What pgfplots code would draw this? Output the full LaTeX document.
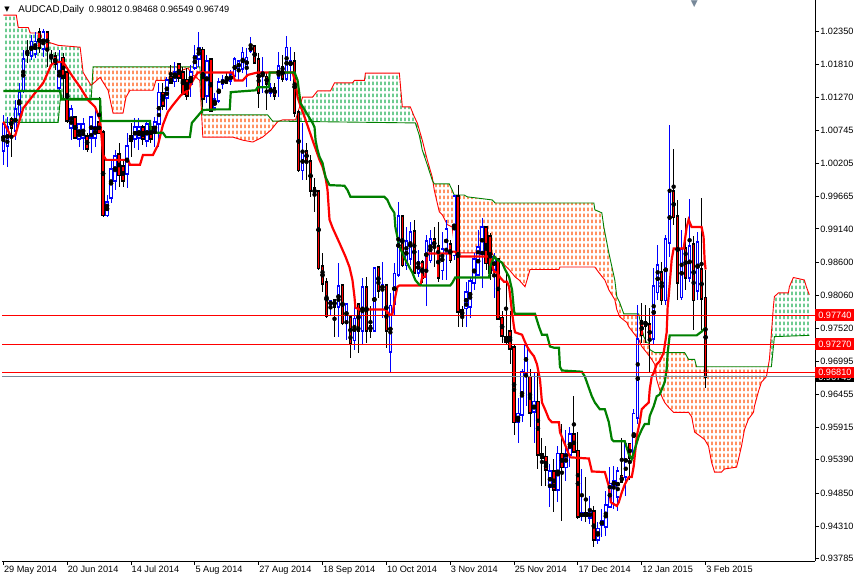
\documentclass[border=0pt]{standalone}
\usepackage{fontspec}
\setmainfont{Liberation Sans}
\newfontfamily\dejavu{DejaVu Sans}
\usepackage{pgfplots}
\pgfplotsset{compat=1.18}
\usepackage{pgfplotstable}
\usepgfplotslibrary{fillbetween}
\usetikzlibrary{patterns.meta}

\definecolor{kgreen}{RGB}{0,128,0}
\definecolor{cloudgreen}{RGB}{30,175,85}
\definecolor{cloudorange}{RGB}{255,85,10}
\definecolor{bidgray}{RGB}{119,136,153}

% hatch used by the kumo (cloud)
\tikzdeclarepattern{
  name=kumo,
  type=uncolored,
  bottom left={(0pt,0pt)},
  top right={(4pt,6pt)},
  tile size={(4pt,6pt)},
  code={\draw[line width=1.2pt] (2pt,1pt) -- (2pt,4.5pt);}
}

% daily candles: bar index, open, high, low, close
\pgfplotstableread{
i o h l c
0 1.0042 1.0099 1.0018 1.0083
1 1.0050 1.0096 1.0015 1.0078
2 1.0091 1.0096 1.0031 1.0079
3 1.0074 1.0123 1.0058 1.0107
4 1.0102 1.0151 1.0091 1.0134
5 1.0139 1.0204 1.0134 1.0188
6 1.0201 1.0220 1.0183 1.0198
7 1.0196 1.0228 1.0188 1.0217
8 1.0199 1.0233 1.0191 1.0217
9 1.0232 1.0241 1.0199 1.0209
10 1.0207 1.0238 1.0193 1.0232
11 1.0232 1.0233 1.0177 1.0207
12 1.0196 1.0204 1.0180 1.0193
13 1.0193 1.0201 1.0172 1.0183
14 1.0144 1.0204 1.0134 1.0183
15 1.0191 1.0199 1.0123 1.0160
16 1.0167 1.0177 1.0086 1.0091
17 1.0079 1.0115 1.0058 1.0107
18 1.0094 1.0096 1.0061 1.0063
19 1.0061 1.0086 1.0047 1.0083
20 1.0063 1.0094 1.0042 1.0083
21 1.0063 1.0070 1.0039 1.0045
22 1.0063 1.0096 1.0037 1.0094
23 1.0063 1.0107 1.0047 1.0078
24 1.0086 1.0128 1.0070 1.0070
25 1.0070 1.0074 0.9934 0.9937
26 0.9937 0.9969 0.9934 0.9956
27 0.9966 1.0026 0.9956 1.0010
28 0.9993 1.0042 0.9977 1.0031
29 1.0034 1.0053 0.9982 1.0002
30 1.0015 1.0026 0.9982 0.9993
31 1.0005 1.0070 0.9980 1.0047
32 1.0063 1.0086 1.0031 1.0058
33 1.0061 1.0094 1.0045 1.0078
34 1.0063 1.0094 1.0042 1.0078
35 1.0078 1.0083 1.0050 1.0061
36 1.0058 1.0091 1.0047 1.0083
37 1.0079 1.0088 1.0053 1.0061
38 1.0070 1.0096 1.0047 1.0086
39 1.0086 1.0151 1.0047 1.0134
40 1.0134 1.0151 1.0107 1.0115
41 1.0128 1.0160 1.0107 1.0155
42 1.0160 1.0180 1.0151 1.0152
43 1.0155 1.0185 1.0144 1.0168
44 1.0180 1.0183 1.0152 1.0160
45 1.0168 1.0177 1.0131 1.0134
46 1.0155 1.0175 1.0123 1.0131
47 1.0151 1.0180 1.0128 1.0167
48 1.0177 1.0212 1.0172 1.0193
49 1.0191 1.0233 1.0177 1.0207
50 1.0204 1.0209 1.0112 1.0126
51 1.0131 1.0196 1.0118 1.0185
52 1.0188 1.0191 1.0107 1.0107
53 1.0112 1.0134 1.0107 1.0123
54 1.0123 1.0159 1.0118 1.0151
55 1.0151 1.0164 1.0142 1.0155
56 1.0160 1.0167 1.0151 1.0152
57 1.0155 1.0172 1.0147 1.0164
58 1.0164 1.0193 1.0160 1.0188
59 1.0175 1.0188 1.0155 1.0185
60 1.0175 1.0209 1.0168 1.0199
61 1.0177 1.0207 1.0144 1.0191
62 1.0204 1.0225 1.0199 1.0209
63 1.0209 1.0212 1.0183 1.0185
64 1.0188 1.0199 1.0110 1.0136
65 1.0164 1.0193 1.0134 1.0168
66 1.0160 1.0167 1.0107 1.0151
67 1.0136 1.0151 1.0128 1.0142
68 1.0142 1.0151 1.0123 1.0131
69 1.0160 1.0201 1.0128 1.0177
70 1.0175 1.0196 1.0152 1.0159
71 1.0159 1.0227 1.0155 1.0207
72 1.0181 1.0209 1.0155 1.0185
73 1.0185 1.0201 1.0096 1.0104
74 1.0102 1.0107 1.0006 1.0010
75 1.0010 1.0086 0.9993 1.0037
76 1.0039 1.0053 0.9993 1.0026
77 1.0023 1.0034 0.9966 0.9977
78 0.9979 0.9997 0.9942 0.9972
79 0.9974 0.9977 0.9848 0.9851
80 0.9852 0.9875 0.9812 0.9826
81 0.9826 0.9835 0.9770 0.9774
82 0.9791 0.9799 0.9774 0.9796
83 0.9797 0.9797 0.9739 0.9789
84 0.9788 0.9859 0.9739 0.9820
85 0.9822 0.9823 0.9758 0.9762
86 0.9762 0.9791 0.9734 0.9791
87 0.9770 0.9770 0.9705 0.9729
88 0.9734 0.9791 0.9718 0.9767
89 0.9791 0.9791 0.9713 0.9750
90 0.9750 0.9835 0.9726 0.9818
91 0.9818 0.9835 0.9729 0.9750
92 0.9755 0.9788 0.9737 0.9750
93 0.9750 0.9851 0.9747 0.9849
94 0.9851 0.9851 0.9802 0.9815
95 0.9817 0.9861 0.9770 0.9822
96 0.9822 0.9822 0.9721 0.9750
97 0.9715 0.9810 0.9682 0.9788
98 0.9794 0.9859 0.9774 0.9840
99 0.9840 0.9958 0.9836 0.9934
100 0.9934 0.9935 0.9852 0.9856
101 0.9856 0.9917 0.9848 0.9893
102 0.9867 0.9925 0.9856 0.9908
103 0.9909 0.9929 0.9844 0.9844
104 0.9844 0.9880 0.9836 0.9859
105 0.9859 0.9864 0.9826 0.9836
106 0.9851 0.9904 0.9788 0.9893
107 0.9864 0.9912 0.9859 0.9896
108 0.9896 0.9917 0.9852 0.9885
109 0.9885 0.9925 0.9828 0.9835
110 0.9848 0.9909 0.9831 0.9880
111 0.9877 0.9929 0.9831 0.9912
112 0.9888 0.9896 0.9859 0.9864
113 0.9872 0.9966 0.9864 0.9966
114 0.9966 0.9985 0.9755 0.9780
115 0.9781 0.9788 0.9754 0.9774
116 0.9786 0.9828 0.9754 0.9810
117 0.9788 0.9835 0.9770 0.9828
118 0.9828 0.9875 0.9815 0.9864
119 0.9840 0.9912 0.9840 0.9883
120 0.9875 0.9932 0.9818 0.9916
121 0.9916 0.9916 0.9848 0.9859
122 0.9901 0.9908 0.9831 0.9844
123 0.9848 0.9875 0.9802 0.9867
124 0.9864 0.9864 0.9769 0.9769
125 0.9769 0.9780 0.9729 0.9742
126 0.9737 0.9843 0.9726 0.9731
127 0.9747 0.9780 0.9694 0.9720
128 0.9721 0.9726 0.9580 0.9601
129 0.9601 0.9640 0.9567 0.9613
130 0.9613 0.9686 0.9601 0.9681
131 0.9681 0.9726 0.9626 0.9723
132 0.9673 0.9686 0.9593 0.9616
133 0.9618 0.9681 0.9567 0.9632
134 0.9632 0.9681 0.9524 0.9548
135 0.9548 0.9575 0.9496 0.9543
136 0.9543 0.9561 0.9496 0.9524
137 0.9496 0.9532 0.9462 0.9519
138 0.9519 0.9540 0.9454 0.9491
139 0.9491 0.9561 0.9470 0.9548
140 0.9548 0.9597 0.9439 0.9528
141 0.9528 0.9588 0.9504 0.9548
142 0.9548 0.9592 0.9528 0.9580
143 0.9580 0.9642 0.9551 0.9553
144 0.9553 0.9585 0.9443 0.9448
145 0.9448 0.9524 0.9439 0.9451
146 0.9451 0.9511 0.9438 0.9448
147 0.9446 0.9480 0.9435 0.9454
148 0.9454 0.9464 0.9397 0.9410
149 0.9410 0.9438 0.9402 0.9426
150 0.9435 0.9459 0.9413 0.9438
151 0.9431 0.9488 0.9415 0.9464
152 0.9464 0.9527 0.9462 0.9499
153 0.9499 0.9529 0.9459 0.9503
154 0.9480 0.9527 0.9456 0.9519
155 0.9512 0.9575 0.9503 0.9504
156 0.9512 0.9569 0.9480 0.9564
157 0.9564 0.9564 0.9507 0.9543
158 0.9543 0.9621 0.9540 0.9613
159 0.9608 0.9791 0.9597 0.9734
160 0.9763 0.9794 0.9729 0.9742
161 0.9762 0.9791 0.9729 0.9757
162 0.9758 0.9786 0.9682 0.9734
163 0.9737 0.9851 0.9726 0.9820
164 0.9812 0.9888 0.9799 0.9854
165 0.9843 0.9861 0.9791 0.9799
166 0.9799 0.9904 0.9791 0.9896
167 0.9893 1.0083 0.9869 0.9972
168 0.9974 1.0044 0.9921 0.9934
169 0.9934 0.9961 0.9799 0.9828
170 0.9804 0.9912 0.9799 0.9880
171 0.9882 0.9932 0.9815 0.9836
172 0.9836 0.9963 0.9828 0.9885
173 0.9888 0.9903 0.9750 0.9799
174 0.9815 0.9909 0.9799 0.9891
175 0.9847 0.9964 0.9750 0.9802
176 0.98012 0.98468 0.96549 0.96749
}\candles

% Tenkan-sen (red) and Kijun-sen (green)
\pgfplotstableread{
x y
0 1.0088
2 1.0063
3 1.0066
3.75 1.0083
5 1.0110
7.5 1.0131
10 1.0151
12 1.0180
13 1.0185
15 1.0185
15.75 1.0177
17.5 1.0160
19.25 1.0144
21.25 1.0123
23 1.0112
24.25 1.0091
25 1.0034
25.75 1.0026
31.25 1.0026
31.75 1.0018
34.25 1.0018
35 1.0034
37.5 1.0034
38.75 1.0050
40 1.0083
41.25 1.0104
42.5 1.0115
44.5 1.0131
46.25 1.0139
47.5 1.0155
48.75 1.0168
57.5 1.0168
58 1.0155
60 1.0155
61.25 1.0164
63.75 1.0168
72.5 1.0168
73.25 1.0151
73.75 1.0128
74.25 1.0118
75.75 1.0091
77.5 1.0058
79.25 1.0026
80 1.0015
80.75 0.9998
81.25 0.9977
81.75 0.9929
82.5 0.9916
84.25 0.9891
85.75 0.9869
86.75 0.9852
87.5 0.9831
88 0.9804
88.25 0.9786
89.25 0.9783
95.75 0.9783
96.75 0.9775
97.5 0.9775
98.25 0.9804
98.75 0.9820
99.25 0.9822
104.5 0.9822
105 0.9836
105.75 0.9836
106.25 0.9874
112 0.9874
112.5 0.9877
113.25 0.9877
113.75 0.9872
114.25 0.9869
122 0.9869
123 0.9844
123.75 0.9843
124.5 0.9835
125.5 0.9828
126.25 0.9828
126.75 0.9820
127 0.9807
127.5 0.9778
128 0.9754
128.25 0.9746
130 0.9742
130.5 0.9734
131.25 0.9723
132 0.9715
133 0.9707
133.75 0.9694
134.5 0.9669
135 0.9632
135.75 0.9621
136.75 0.9605
137.5 0.9600
139.25 0.9600
139.5 0.9584
140.5 0.9568
141.25 0.9556
142 0.9543
146.75 0.9541
147.5 0.9520
150.75 0.9519
151.75 0.9496
152.25 0.9470
153.75 0.9464
154.25 0.9470
155 0.9486
155.75 0.9499
156.75 0.9511
157.5 0.9511
158 0.9529
158.75 0.9577
159.5 0.9600
160 0.9621
160.75 0.9626
161.75 0.9632
162 0.9653
162.5 0.9674
163 0.9680
163.75 0.9694
164.5 0.9699
165.5 0.9713
166.25 0.9746
166.5 0.9788
166.75 0.9804
167.5 0.9864
168 0.9882
170.5 0.9882
170.75 0.9893
171.25 0.9916
171.75 0.9929
172.5 0.9917
175 0.9917
175.5 0.9901
175.75 0.9864
176 0.9848
}\tenkan

\pgfplotstableread{
x y
0 1.0138
14.25 1.0138
14.5 1.0125
24.25 1.0125
24.5 1.0089
36.75 1.0089
37 1.0070
40 1.0070
40.75 1.0063
46.75 1.0063
47.25 1.0086
50 1.0107
53.25 1.0108
56.75 1.0108
57 1.0136
63.25 1.0139
63.75 1.0144
66.5 1.0144
66.75 1.0168
73 1.0168
73.75 1.0155
74.5 1.0118
77.5 1.0086
78 1.0079
78.25 1.0058
78.75 1.0042
79.25 1.0031
80 1.0021
80.75 0.9998
81.75 0.9985
85.5 0.9984
86.25 0.9977
87 0.9966
95.5 0.9966
96.25 0.9961
97 0.9950
98 0.9940
98.25 0.9917
98.75 0.9901
99.25 0.9885
100 0.9875
100.75 0.9864
101.75 0.9852
102.5 0.9843
103.25 0.9831
104.25 0.9823
105 0.9822
112 0.9822
112.5 0.9826
113.25 0.9835
121.75 0.9835
122 0.9852
123 0.9869
123.75 0.9864
125 0.9859
125.75 0.9848
126.75 0.9836
127.5 0.9815
128 0.9780
128.25 0.9776
133.25 0.9776
134.25 0.9755
135 0.9742
136.25 0.9742
137 0.9723
138 0.9721
139.25 0.9721
139.5 0.9690
140 0.9684
145 0.9682
145.75 0.9674
147.5 0.9642
148.25 0.9632
149.5 0.9621
150.75 0.9621
151.75 0.9600
152.5 0.9572
153 0.9569
155.75 0.9569
156.75 0.9548
157.5 0.9540
158.25 0.9556
159.25 0.9577
160 0.9588
160.75 0.9597
161.75 0.9597
162 0.9610
163 0.9626
163.75 0.9642
164.5 0.9645
165.75 0.9665
166.25 0.9686
166.5 0.9713
167 0.9741
173.75 0.9741
175 0.9747
176 0.9754
}\kijun

% Senkou span A (red) and B (green), shifted 26 bars ahead
\pgfplotstableread{
x y
0 1.0261
3.25 1.0261
3.75 1.0241
6.25 1.0241
6.75 1.0232
9.25 1.0232
10 1.0220
13.75 1.0212
19.25 1.0209
20 1.0168
22 1.0147
24.25 1.0160
26.25 1.0139
27.5 1.0102
30 1.0102
30.75 1.0128
31.75 1.0139
37.5 1.0139
38.25 1.0155
41.75 1.0155
42.5 1.0160
45 1.0172
46.25 1.0175
47.5 1.0164
49.25 1.0155
50 1.0063
57.5 1.0063
60 1.0058
62.5 1.0055
65 1.0063
67 1.0074
68.75 1.0088
70 1.0091
73.25 1.0091
75 1.0128
77.5 1.0128
78.75 1.0138
82 1.0138
83 1.0151
87.5 1.0151
88 1.0155
90.5 1.0155
90.75 1.0167
99.25 1.0167
100 1.0112
102 1.0112
103 1.0096
103.75 1.0086
105 1.0058
106.25 1.0026
107.5 0.9998
108 0.9977
109.25 0.9942
110 0.9937
111.25 0.9921
112.5 0.9917
113.25 0.9875
122.5 0.9875
123.25 0.9864
125 0.9859
126.75 0.9848
128.25 0.9836
129.25 0.9831
130.75 0.9820
131.25 0.9831
132 0.9848
139.25 0.9848
139.5 0.9852
148.25 0.9852
149.25 0.9843
150.75 0.9831
151.75 0.9815
153.25 0.9799
153.75 0.9783
154.5 0.9771
156.25 0.9762
156.75 0.9755
159.25 0.9734
160 0.9723
161.25 0.9713
162.5 0.9702
163.25 0.9694
163.75 0.9669
165 0.9642
165.75 0.9632
166.75 0.9624
168 0.9616
171.75 0.9616
172.5 0.9609
173.25 0.9584
175.75 0.9572
176.75 0.9561
177.5 0.9535
178.25 0.9519
180 0.9519
180.75 0.9524
183.75 0.9527
184.25 0.9540
185 0.9561
185.75 0.9588
186.75 0.9605
188 0.9616
188.25 0.9626
189.25 0.9650
190 0.9665
191.25 0.9674
192 0.9702
193 0.9788
193.25 0.9804
194.25 0.9810
196.75 0.9810
197 0.9820
198 0.9835
200.75 0.9831
201.25 0.9820
202 0.9807
}\spanA

\pgfplotstableread{
x y
0 1.0087
13.75 1.0087
14.25 1.0123
22 1.0123
22.5 1.0177
49.25 1.0177
50 1.0099
66.25 1.0099
67.5 1.0089
103.25 1.0086
104.25 1.0066
105 1.0042
106.25 1.0018
107.5 0.9993
108 0.9987
111.75 0.9987
112.5 0.9977
113 0.9969
115.5 0.9969
116.25 0.9966
122.5 0.9961
123.25 0.9956
148 0.9956
148.25 0.9945
150 0.9940
150.5 0.9917
151.75 0.9875
153.25 0.9831
153.75 0.9804
154.5 0.9794
155.5 0.9776
159.25 0.9776
159.5 0.9767
160 0.9755
160.5 0.9739
161.25 0.9729
161.75 0.9729
162 0.9718
163.25 0.9713
170.75 0.9713
171.75 0.9702
173.25 0.9702
173.75 0.9690
192.5 0.9690
193.25 0.9739
202 0.9741
}\spanB

\begin{document}
\begin{tikzpicture}
\begin{axis}[
  at={(0pt,0pt)}, anchor=south west,
  scale only axis, width=815pt, height=562pt,
  xmin=-0.3, xmax=203.45, ymin=0.93746, ymax=1.0285,
  clip=false,
  axis x line*=bottom, axis y line*=right,
  axis line style={black, line width=0.8pt},
  tick align=outside, major tick length=4pt,
  tick style={black, line width=0.8pt},
  xtick={0,16,...,176},
  xticklabels={29 May 2014,20 Jun 2014,14 Jul 2014,5 Aug 2014,27 Aug 2014,18 Sep 2014,10 Oct 2014,3 Nov 2014,25 Nov 2014,17 Dec 2014,12 Jan 2015,3 Feb 2015},
  xticklabel style={anchor=north west, inner sep=0pt, xshift=0.5pt, yshift=-1pt},
  ytick={0.93785,0.94310,0.94850,0.95390,0.95915,0.96455,0.96995,0.97520,0.98060,0.98600,0.99140,0.99665,1.00205,1.00745,1.01270,1.01810,1.02350},
  yticklabels={0.93785,0.94310,0.94850,0.95390,0.95915,0.96455,0.96995,0.97520,0.98060,0.98600,0.99140,0.99665,1.00205,1.00745,1.01270,1.01810,1.02350},
  yticklabel style={anchor=west, inner sep=0pt, xshift=1pt},
  ticklabel style={font=\fontsize{9.2}{11}\selectfont},
]

% invisible span paths for the cloud
\addplot[draw=none, name path=A] table[x=x, y=y] {\spanA};
\addplot[draw=none, name path=B] table[x=x, y=y] {\spanB};

\addplot[pattern=kumo, pattern color=cloudgreen, draw=none] fill between[of=A and B, soft clip={domain=-0.3:22.25}];
\addplot[pattern=kumo, pattern color=cloudorange, draw=none] fill between[of=A and B, soft clip={domain=22.25:69}];
\addplot[pattern=kumo, pattern color=cloudgreen, draw=none] fill between[of=A and B, soft clip={domain=69:107.7}];
\addplot[pattern=kumo, pattern color=cloudorange, draw=none] fill between[of=A and B, soft clip={domain=107.7:191.6}];
\addplot[pattern=kumo, pattern color=cloudgreen, draw=none] fill between[of=A and B, soft clip={domain=191.6:202}];

\addplot[red, line width=0.9pt] table[x=x, y=y] {\spanA};
\addplot[kgreen, line width=0.9pt] table[x=x, y=y] {\spanB};

% wicks
\addplot[only marks, mark=none, error bars/.cd, y dir=both, y explicit, error mark=none,
  error bar style={blue, line width=1pt}]
  table[x=i, y expr={\thisrow{c}>=\thisrow{o} ? (\thisrow{h}+\thisrow{l})/2 : nan},
        y error expr={(\thisrow{h}-\thisrow{l})/2}] {\candles};
\addplot[only marks, mark=none, error bars/.cd, y dir=both, y explicit, error mark=none,
  error bar style={black, line width=1pt}]
  table[x=i, y expr={\thisrow{c}<\thisrow{o} ? (\thisrow{h}+\thisrow{l})/2 : nan},
        y error expr={(\thisrow{h}-\thisrow{l})/2}] {\candles};

% bodies: outline then fill
\addplot[only marks, mark=none, error bars/.cd, y dir=both, y explicit, error mark=none,
  error bar style={blue, line width=3.4pt, line cap=rect}]
  table[x=i, y expr={\thisrow{c}>=\thisrow{o} ? (\thisrow{o}+\thisrow{c})/2 : nan},
        y error expr={abs(\thisrow{c}-\thisrow{o})/2}] {\candles};
\addplot[only marks, mark=none, error bars/.cd, y dir=both, y explicit, error mark=none,
  error bar style={white, line width=1.5pt}]
  table[x=i, y expr={\thisrow{c}>=\thisrow{o} ? (\thisrow{o}+\thisrow{c})/2 : nan},
        y error expr={abs(\thisrow{c}-\thisrow{o})/2}] {\candles};
\addplot[only marks, mark=none, error bars/.cd, y dir=both, y explicit, error mark=none,
  error bar style={black, line width=3.4pt, line cap=rect}]
  table[x=i, y expr={\thisrow{c}<\thisrow{o} ? (\thisrow{o}+\thisrow{c})/2 : nan},
        y error expr={abs(\thisrow{c}-\thisrow{o})/2}] {\candles};
\addplot[only marks, mark=none, error bars/.cd, y dir=both, y explicit, error mark=none,
  error bar style={red, line width=1.6pt}]
  table[x=i, y expr={\thisrow{c}<\thisrow{o} ? (\thisrow{o}+\thisrow{c})/2 : nan},
        y error expr={abs(\thisrow{c}-\thisrow{o})/2}] {\candles};

\addplot[red, line width=2.2pt] table[x=x, y=y] {\tenkan};
\addplot[kgreen, line width=2.2pt] table[x=x, y=y] {\kijun};

% price levels and bid line
\addplot[red, line width=0.9pt] coordinates {(-0.3,0.97740) (203.45,0.97740)};
\addplot[red, line width=0.9pt] coordinates {(-0.3,0.97270) (203.45,0.97270)};
\addplot[red, line width=0.9pt] coordinates {(-0.3,0.96810) (203.45,0.96810)};
\addplot[bidgray, line width=0.9pt] coordinates {(-0.3,0.96749) (203.45,0.96749)};

\node[anchor=west, fill=black, text=white, inner xsep=3pt, inner ysep=2pt, font=\fontsize{9.2}{11}\selectfont] at (axis cs:203.45,0.96735) {0.96749};
\node[anchor=west, fill=red, text=white, inner xsep=3pt, inner ysep=2.5pt, font=\fontsize{9.2}{11}\selectfont] at (axis cs:203.45,0.97740) {0.97740};
\node[anchor=west, fill=red, text=white, inner xsep=3pt, inner ysep=2.5pt, font=\fontsize{9.2}{11}\selectfont] at (axis cs:203.45,0.97270) {0.97270};
\node[anchor=west, fill=red, text=white, inner xsep=3pt, inner ysep=2.5pt, font=\fontsize{9.2}{11}\selectfont] at (axis cs:203.45,0.96810) {0.96810};

% header
\node[anchor=base west, inner sep=0pt, xshift=2pt, yshift=-11pt, font={\dejavu\fontsize{7}{8}\selectfont}] at (rel axis cs:0,1) {▼};
\node[anchor=base west, inner sep=0pt, xshift=16pt, yshift=-12pt] at (rel axis cs:0,1)
  {{\fontsize{9.8}{11}\selectfont AUDCAD,Daily}\hspace{5pt}{\fontsize{9.2}{11}\selectfont 0.98012 0.98468 0.96549 0.96749}};
\node[anchor=north, inner sep=0pt, text=bidgray, font={\dejavu\fontsize{9}{9}\selectfont}] at (axis cs:173.2,1.0285) {▼};
\end{axis}
\path (0pt,-16pt) rectangle (856pt,562pt);
\end{tikzpicture}
\end{document}
